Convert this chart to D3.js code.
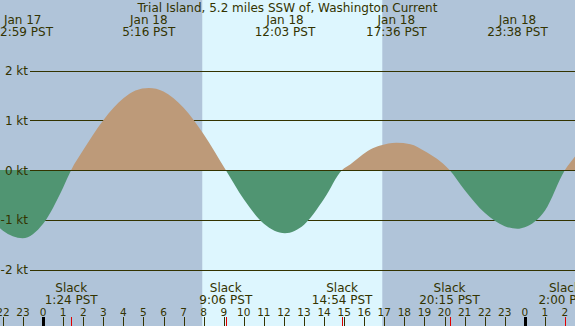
<!DOCTYPE html>
<html>
<head>
<meta charset="utf-8">
<title>Trial Island Current</title>
<script src="https://d3js.org/d3.v7.min.js"></script>
<style>
body { margin:0; }
svg { display:block; font-family:"DejaVu Sans", sans-serif; font-size:12px; }
</style>
</head>
<body>
<script>
// hours are counted from Jan 18 00:00 PST
var curveHours = [-2.5, -2, -1.02, 0, 1, 1.4, 2, 3, 4, 4.6, 5.27, 6, 7, 8, 9.1, 10, 11, 12.05, 13, 14, 14.9, 15.3, 15.8, 16.3, 16.8, 17.6, 18.3, 19, 20.25, 21, 22, 23, 23.63, 24, 25, 26, 26.5, 27];
var curveKnots = [-1.04, -1.22, -1.37, -1.08, -0.35, 0, 0.40, 1.00, 1.44, 1.60, 1.65, 1.58, 1.25, 0.72, 0, -0.59, -1.08, -1.27, -1.10, -0.58, 0, 0.11, 0.27, 0.41, 0.49, 0.55, 0.52, 0.38, 0, -0.40, -0.86, -1.13, -1.18, -1.15, -0.82, 0, 0.27, 0.55];

var peakHours = [-1.017, 5.267, 12.05, 17.6, 23.633];
var peakDates = ["Jan 17", "Jan 18", "Jan 18", "Jan 18", "Jan 18"];
var peakTimes = ["22:59 PST", "5:16 PST", "12:03 PST", "17:36 PST", "23:38 PST"];

var slackHours = [1.4, 9.1, 14.9, 20.25, 26];
var slackTimes = ["1:24 PST", "9:06 PST", "14:54 PST", "20:15 PST", "2:00 PST"];

var hourTicks = [-2,-1,0,1,2,3,4,5,6,7,8,9,10,11,12,13,14,15,16,17,18,19,20,21,22,23,24,25,26];
var hourLabels = ["22","23","0","1","2","3","4","5","6","7","8","9","10","11","12","13","14","15","16","17","18","19","20","21","22","23","0","1","2"];
var ktTicks = [2, 1, 0, -1, -2];
var ktLabels = ["2 kt", "1 kt", "0 kt", "-1 kt", "-2 kt"];
var sunrise = 7.93, sunset = 16.9;

var width = 575, height = 326;
var ink = '#333300';
var svg = d3.select('body').append('svg').attr('width', width).attr('height', height);

var x = d3.scaleLinear().domain([0, 24]).range([43.1, 524.8]);
var y = d3.scaleLinear().domain([-2, 2]).range([269.5, 70.5]);

svg.append('rect').attr('width', width).attr('height', height).attr('fill', '#b0c4d9');
svg.append('rect').attr('x', x(sunrise)).attr('y', 0)
  .attr('width', x(sunset) - x(sunrise)).attr('height', height).attr('fill', '#ddf6fe');

// grid lines behind the fill
svg.selectAll('line.grid').data(ktTicks).enter().append('line').attr('class', 'grid')
  .attr('x1', 30).attr('x2', width)
  .attr('y1', function(d){ return Math.round(y(d)) + 0.5; })
  .attr('y2', function(d){ return Math.round(y(d)) + 0.5; })
  .attr('stroke', ink).attr('stroke-width', 1);

var pts = curveHours.map(function(h, i){ return [h, curveKnots[i]]; });
var area = d3.area().curve(d3.curveMonotoneX)
  .x(function(d){ return x(d[0]); })
  .y0(y(0))
  .y1(function(d){ return y(d[1]); });

var defs = svg.append('defs');
defs.append('clipPath').attr('id', 'above').append('rect')
  .attr('x', 0).attr('y', 0).attr('width', width).attr('height', y(0));
defs.append('clipPath').attr('id', 'below').append('rect')
  .attr('x', 0).attr('y', y(0)).attr('width', width).attr('height', height - y(0));

svg.append('path').datum(pts).attr('d', area).attr('fill', '#bd9a79').attr('clip-path', 'url(#above)');
svg.append('path').datum(pts).attr('d', area).attr('fill', '#509572').attr('clip-path', 'url(#below)');

// zero line on top
svg.append('line').attr('x1', 30).attr('x2', width)
  .attr('y1', Math.round(y(0)) + 0.5).attr('y2', Math.round(y(0)) + 0.5)
  .attr('stroke', ink).attr('stroke-width', 1);

svg.selectAll('text.kt').data(ktTicks).enter().append('text').attr('class', 'kt')
  .attr('x', 28).attr('y', function(d){ return y(d) + 4.5; })
  .attr('text-anchor', 'end').attr('fill', ink)
  .text(function(d, i){ return ktLabels[i]; });

svg.append('text').attr('x', 287.5).attr('y', 12).attr('text-anchor', 'middle').attr('fill', ink)
  .text('Trial Island, 5.2 miles SSW of, Washington Current');

var peaks = svg.selectAll('g.peak').data(peakHours).enter().append('g').attr('class', 'peak');
peaks.append('text').attr('x', function(d){ return x(d); }).attr('y', 24)
  .attr('text-anchor', 'middle').attr('fill', ink).text(function(d, i){ return peakDates[i]; });
peaks.append('text').attr('x', function(d){ return x(d); }).attr('y', 36)
  .attr('text-anchor', 'middle').attr('fill', ink).text(function(d, i){ return peakTimes[i]; });

var slacks = svg.selectAll('g.slack').data(slackHours).enter().append('g').attr('class', 'slack');
slacks.append('text').attr('x', function(d){ return x(d); }).attr('y', 292)
  .attr('text-anchor', 'middle').attr('fill', ink).text('Slack');
slacks.append('text').attr('x', function(d){ return x(d); }).attr('y', 304)
  .attr('text-anchor', 'middle').attr('fill', ink).text(function(d, i){ return slackTimes[i]; });

svg.selectAll('text.hour').data(hourTicks).enter().append('text').attr('class', 'hour')
  .attr('x', function(d){ return x(d); }).attr('y', 315.5)
  .attr('text-anchor', 'middle').attr('fill', ink).style('font-size', '10.5px')
  .text(function(d, i){ return hourLabels[i]; });

svg.selectAll('line.hour').data(hourTicks).enter().append('line').attr('class', 'hour')
  .attr('x1', function(d){ return Math.round(x(d)) + 0.5; })
  .attr('x2', function(d){ return Math.round(x(d)) + 0.5; })
  .attr('y1', 317).attr('y2', height)
  .attr('stroke', function(d){ return d % 24 == 0 ? '#000' : ink; })
  .attr('stroke-width', function(d){ return d % 24 == 0 ? 3 : 1; });

svg.selectAll('line.slack').data(slackHours).enter().append('line').attr('class', 'slack')
  .attr('x1', function(d){ return Math.round(x(d)) + 0.5; })
  .attr('x2', function(d){ return Math.round(x(d)) + 0.5; })
  .attr('y1', 317).attr('y2', height)
  .attr('stroke', '#e00000').attr('stroke-width', 1);
</script>
</body>
</html>
